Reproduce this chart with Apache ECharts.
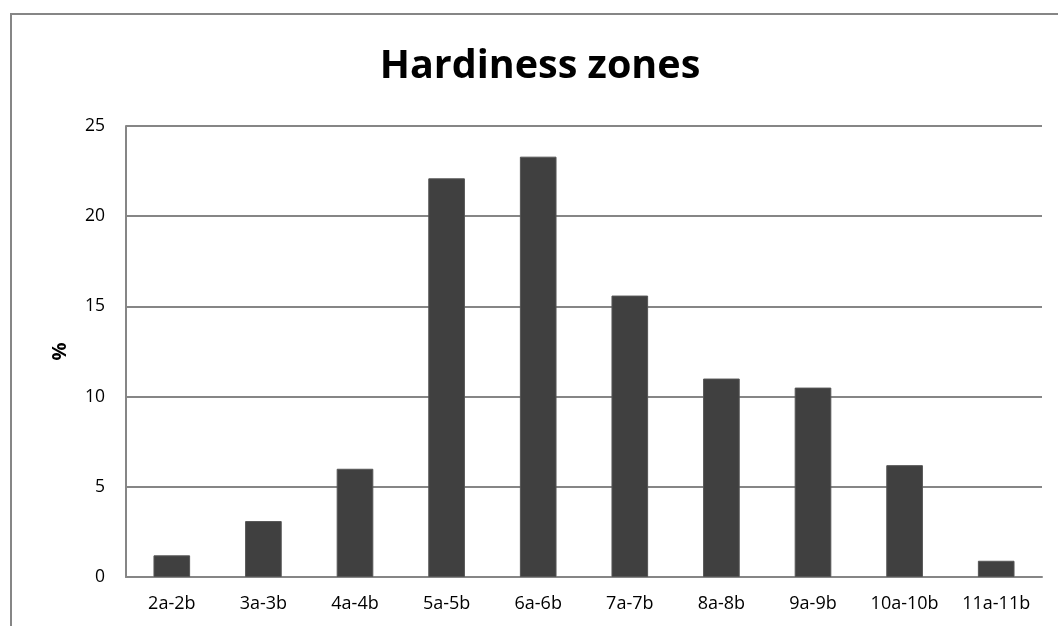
<!DOCTYPE html>
<html>
<head>
<meta charset="utf-8">
<script src="https://cdn.jsdelivr.net/npm/echarts@6/dist/echarts.min.js"></script>
<style>html,body{margin:0;padding:0;background:#fff;}#c{width:1058px;height:626px;}</style>
</head>
<body>
<div id="c"></div>
<script>
const categories = ['2a-2b','3a-3b','4a-4b','5a-5b','6a-6b','7a-7b','8a-8b','9a-9b','10a-10b','11a-11b'];
const values = [1.2, 3.1, 6.0, 22.1, 23.3, 15.6, 11.0, 10.5, 6.2, 0.9];
const titleText = 'Hardiness zones';
const yAxisName = '%';

const chart = echarts.init(document.getElementById('c'));
chart.setOption({
  animation: false,
  title: {
    text: titleText,
    left: 535, top: 42, textAlign: 'center',
    textStyle: { fontFamily: 'Open Sans', fontWeight: 'bold', fontSize: 39.5, color: '#000' }
  },
  graphic: [{
    type: 'polyline',
    shape: { points: [[11, 626], [11, 14], [1058, 14]] },
    style: { stroke: '#868686', lineWidth: 2, fill: null }
  }],
  grid: { left: 126, right: 16, top: 126, bottom: 49, containLabel: false },
  xAxis: {
    type: 'category',
    data: categories,
    axisLine: { lineStyle: { color: '#868686', width: 2 } },
    axisTick: { show: false },
    axisLabel: { fontFamily: 'Open Sans', fontSize: 18, color: '#000', margin: 18 }
  },
  yAxis: {
    type: 'value',
    min: 0, max: 25, interval: 5,
    name: yAxisName,
    nameLocation: 'middle',
    nameGap: 56,
    nameRotate: 90,
    nameTextStyle: { fontFamily: 'Open Sans', fontWeight: 'bold', fontSize: 20, color: '#000' },
    axisLine: { show: true, lineStyle: { color: '#868686', width: 2 } },
    axisTick: { show: false },
    axisLabel: { fontFamily: 'Open Sans', fontSize: 17.5, color: '#000', margin: 21 },
    splitLine: { lineStyle: { color: '#868686', width: 2 } }
  },
  series: [{
    type: 'bar',
    data: values,
    barWidth: '40%',
    itemStyle: { color: '#404040', borderColor: '#555555', borderWidth: 1 }
  }]
});
</script>
</body>
</html>
